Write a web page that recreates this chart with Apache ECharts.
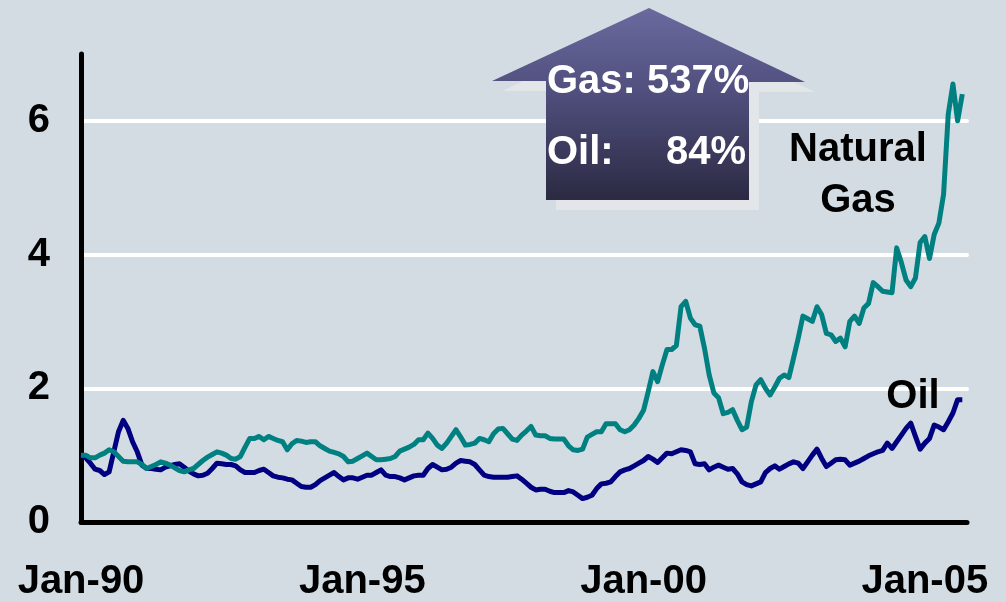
<!DOCTYPE html>
<html>
<head>
<meta charset="utf-8">
<script src="https://cdn.jsdelivr.net/npm/echarts@6/dist/echarts.min.js"></script>
<style>
  html, body { margin: 0; padding: 0; background: #d3dce3; }
  #chart { width: 1006px; height: 602px; }
</style>
</head>
<body>
<div id="chart"></div>
<script>
// monthly index values, Jan-90 = 1.0
var gasValues = [
  1.00, 1.00, 0.96, 0.96, 1.00, 1.03, 1.08, 1.05, 0.98, 0.91, 0.90, 0.90,
  0.90, 0.86, 0.80, 0.83, 0.86, 0.90, 0.88, 0.85, 0.81, 0.77, 0.75, 0.78,
  0.80, 0.86, 0.92, 0.97, 1.01, 1.05, 1.03, 1.00, 0.95, 0.94, 0.98, 1.12,
  1.25, 1.25, 1.28, 1.23, 1.28, 1.25, 1.22, 1.20, 1.08, 1.17, 1.22, 1.21,
  1.19, 1.20, 1.20, 1.14, 1.10, 1.06, 1.04, 1.02, 0.98, 0.90, 0.91, 0.95,
  0.99, 1.03, 0.98, 0.93, 0.93, 0.94, 0.95, 0.98, 1.06, 1.09, 1.12, 1.16,
  1.23, 1.23, 1.33, 1.25, 1.15, 1.10, 1.18, 1.28, 1.38, 1.27, 1.15, 1.16,
  1.18, 1.25, 1.23, 1.20, 1.32, 1.39, 1.40, 1.32, 1.24, 1.22, 1.30, 1.36,
  1.43, 1.30, 1.29, 1.29, 1.25, 1.24, 1.24, 1.24, 1.14, 1.08, 1.07, 1.09,
  1.27, 1.31, 1.35, 1.35, 1.47, 1.47, 1.47, 1.38, 1.35, 1.38, 1.45, 1.55,
  1.67, 1.95, 2.25, 2.10, 2.35, 2.58, 2.58, 2.64, 3.22, 3.30, 3.05, 2.95,
  2.93, 2.60, 2.20, 1.93, 1.86, 1.62, 1.64, 1.68, 1.52, 1.38, 1.42, 1.80,
  2.05, 2.13, 2.00, 1.90, 2.02, 2.15, 2.20, 2.16, 2.45, 2.75, 3.08, 3.04,
  3.00, 3.22, 3.10, 2.82, 2.80, 2.70, 2.75, 2.62, 3.00, 3.08, 2.97, 3.20,
  3.27, 3.58, 3.52, 3.45, 3.44, 3.43, 4.10, 3.88, 3.62, 3.52, 3.65, 4.18,
  4.27, 3.94, 4.30, 4.47, 4.90, 6.10, 6.55, 6.00, 6.40
];
var oilValues = [
  1.00, 0.96, 0.88, 0.79, 0.77, 0.71, 0.75, 1.05, 1.35, 1.52, 1.40, 1.20,
  1.05, 0.85, 0.80, 0.80, 0.79, 0.78, 0.82, 0.84, 0.86, 0.87, 0.82, 0.76,
  0.72, 0.69, 0.70, 0.73, 0.80, 0.88, 0.87, 0.86, 0.86, 0.84, 0.78, 0.74,
  0.74, 0.74, 0.77, 0.79, 0.74, 0.69, 0.67, 0.66, 0.64, 0.63, 0.58, 0.53,
  0.52, 0.52, 0.56, 0.62, 0.66, 0.70, 0.74, 0.68, 0.63, 0.66, 0.66, 0.64,
  0.67, 0.70, 0.70, 0.74, 0.78, 0.70, 0.68, 0.68, 0.66, 0.63, 0.66, 0.69,
  0.70, 0.70, 0.80, 0.86, 0.82, 0.78, 0.79, 0.82, 0.88, 0.92, 0.91, 0.90,
  0.86, 0.78, 0.70, 0.68, 0.67, 0.67, 0.67, 0.67, 0.68, 0.69, 0.64, 0.58,
  0.52, 0.48, 0.49, 0.49, 0.46, 0.44, 0.44, 0.44, 0.47, 0.45, 0.40, 0.35,
  0.37, 0.40, 0.50, 0.57, 0.58, 0.60, 0.68, 0.75, 0.78, 0.80, 0.84, 0.88,
  0.92, 0.98, 0.94, 0.89, 0.96, 1.03, 1.02, 1.05, 1.08, 1.07, 1.05, 0.87,
  0.86, 0.87, 0.78, 0.82, 0.85, 0.82, 0.79, 0.80, 0.72, 0.60, 0.56, 0.54,
  0.57, 0.60, 0.74, 0.80, 0.84, 0.79, 0.83, 0.87, 0.90, 0.88, 0.80, 0.90,
  1.00, 1.09, 0.95, 0.83, 0.88, 0.93, 0.94, 0.93, 0.85, 0.88, 0.91, 0.95,
  0.99, 1.02, 1.05, 1.07, 1.18, 1.10, 1.20, 1.30, 1.40, 1.48, 1.28, 1.09,
  1.18, 1.25, 1.45, 1.42, 1.38, 1.50, 1.63, 1.83, 1.83
];
var tickLabels = ["Jan-90", "Jan-95", "Jan-00", "Jan-05"];
var yTicks = [0, 2, 4, 6];

// month categories Jan-90 .. Oct-05
var monthNames = ["Jan", "Feb", "Mar", "Apr", "May", "Jun", "Jul", "Aug", "Sep", "Oct", "Nov", "Dec"];
var months = [];
for (var y = 1990; y <= 2005; y++) {
  for (var m = 0; m < 12; m++) {
    if (y === 2005 && m > 9) break;
    months.push(monthNames[m] + "-" + String(y).slice(2));
  }
}

var FONT = "Liberation Sans, Arial, sans-serif";
var chart = echarts.init(document.getElementById("chart"), null, { renderer: "canvas" });

var arrow = [[649, 8], [805, 82], [749, 82], [749, 200], [546, 200], [546, 81], [492, 81]];
var arrowShadow = arrow.map(function (p) { return [p[0] + 10, p[1] + 10]; });

chart.setOption({
  backgroundColor: "#d3dce3",
  animation: false,
  grid: { left: 81, right: 39, top: 54, bottom: 80 },
  xAxis: {
    type: "category",
    data: months,
    boundaryGap: false,
    axisLine: { lineStyle: { color: "#000", width: 5, cap: "round" } },
    axisTick: { show: false },
    axisLabel: {
      interval: function (idx, val) { return tickLabels.indexOf(val) >= 0; },
      color: "#000",
      fontFamily: FONT,
      fontWeight: "bold",
      fontSize: 40,
      margin: 40
    },
    splitLine: { show: false }
  },
  yAxis: {
    type: "value",
    min: yTicks[0],
    max: 7,
    interval: 2,
    axisLine: { show: true, lineStyle: { color: "#000", width: 5, cap: "round" } },
    axisTick: { show: false },
    axisLabel: {
      showMaxLabel: false,
      color: "#000",
      fontFamily: FONT,
      fontWeight: "bold",
      fontSize: 40,
      margin: 31,
      formatter: function (v) { return yTicks.indexOf(v) >= 0 ? String(v) : ""; }
    },
    splitLine: { show: true, showMaxLine: false, lineStyle: { color: "#ffffff", width: 4, cap: "round" } }
  },
  series: [
    {
      name: "Oil",
      type: "line",
      data: oilValues,
      showSymbol: false,
      lineStyle: { color: "#000080", width: 5, join: "round" },
      itemStyle: { color: "#000080" }
    },
    {
      name: "Natural Gas",
      type: "line",
      data: gasValues,
      showSymbol: false,
      lineStyle: { color: "#008080", width: 5, join: "round" },
      itemStyle: { color: "#008080" }
    }
  ],
  graphic: [
    { type: "polygon", z: 20, shape: { points: arrowShadow }, style: { fill: "#e3e6e9" } },
    {
      type: "polygon", z: 21, shape: { points: arrow },
      style: {
        fill: new echarts.graphic.LinearGradient(0, 0, 0, 1, [
          { offset: 0, color: "#6a6a9f" },
          { offset: 0.45, color: "#4f4e7c" },
          { offset: 1, color: "#2b2a42" }
        ])
      }
    },
    { type: "text", z: 22, left: 547, top: 62, style: { text: "Gas: 537%", fill: "#fff", font: "bold 40px " + FONT } },
    { type: "text", z: 22, left: 547, top: 133, style: { text: "Oil:", fill: "#fff", font: "bold 40px " + FONT } },
    { type: "text", z: 22, right: 1006 - 746, top: 133, style: { text: "84%", fill: "#fff", font: "bold 40px " + FONT } },
    { type: "text", z: 22, x: 858, y: 150, style: { text: "Natural", fill: "#000", font: "bold 40px " + FONT, align: "center", verticalAlign: "middle" } },
    { type: "text", z: 22, x: 858, y: 201, style: { text: "Gas", fill: "#000", font: "bold 40px " + FONT, align: "center", verticalAlign: "middle" } },
    { type: "text", z: 22, x: 913, y: 397, style: { text: "Oil", fill: "#000", font: "bold 40px " + FONT, align: "center", verticalAlign: "middle" } }
  ]
});
</script>
</body>
</html>
